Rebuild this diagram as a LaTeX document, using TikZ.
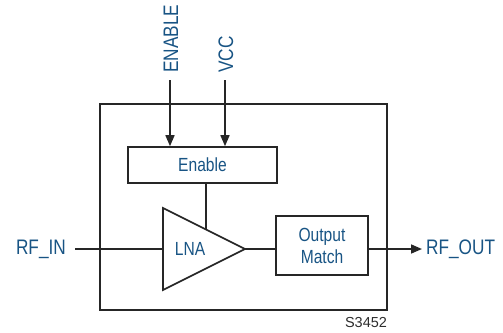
\documentclass[tikz,border=0pt]{standalone}
\usepackage{fontspec}
\setmainfont{Liberation Sans}[FakeStretch=0.82]
\newfontfamily\plainsans{Liberation Sans}
\usetikzlibrary{arrows.meta}
\definecolor{lblue}{RGB}{24,84,132}
\definecolor{lgray}{RGB}{45,45,45}
\tikzset{
  wire/.style={line width=1.6pt, draw=black!85},
  arr/.style={wire, -{Triangle[length=11pt,width=9pt]}},
  blk/.style={wire, rectangle, inner sep=0pt, text=lblue, font=\fontsize{19}{21}\selectfont, align=center},
  lbl/.style={text=lblue, font=\fontsize{21}{24}\selectfont, inner sep=0pt},
}
\begin{document}
\begin{tikzpicture}[x=1pt,y=-1pt]
\useasboundingbox (0,0) rectangle (503,332);
\node[wire, rectangle, minimum width=287pt, minimum height=206pt, inner sep=0pt] (outer) at (243.5,207) {};
\node[blk, minimum width=149pt, minimum height=36pt] (en) at (202.5,165) {Enable};
\node[blk, minimum width=92pt, minimum height=59pt] (om) at (322,245.5) {Output\\[1pt]Match};
% LNA triangle
\coordinate (ta) at (163,208);
\coordinate (tb) at (163,290);
\coordinate (tc) at (245,249);
\draw[wire, line join=miter] (ta) -- (tc) -- (tb) -- cycle;
\node[text=lblue, font=\fontsize{19}{21}\selectfont, inner sep=0pt] (lna) at (190,249) {LNA};
\coordinate (tin) at (163,249);
\coordinate (ten) at (206,229.5);
% labels
\node[lbl, rotate=90, anchor=west] (enl) at (171,73) {ENABLE};
\node[lbl, rotate=90, anchor=west] (vcc) at (226,73) {VCC};
\node[lbl, anchor=east] (rfin) at (66,249) {RF\_IN};
\node[lbl, anchor=west] (rfout) at (426,249) {RF\_OUT};
\node[text=lgray, font=\plainsans\fontsize{14.5}{16}\selectfont, inner sep=0pt] (sid) at (366,323) {S3452};
% connectors
\coordinate (ens) at (170,80);
\coordinate (vccs) at (225,80);
\draw[arr] (ens) -- (ens |- en.north);
\draw[arr] (vccs) -- (vccs |- en.north);
\coordinate (inS) at (75,249);
\draw[wire] (inS) -- (tin);
\draw[wire] (en.south -| ten) -- (ten);
\draw[wire] (tc) -- (tc -| om.west);
\coordinate (outE) at (422,249);
\draw[arr] (tc -| om.east) -- (outE);
\end{tikzpicture}
\end{document}
